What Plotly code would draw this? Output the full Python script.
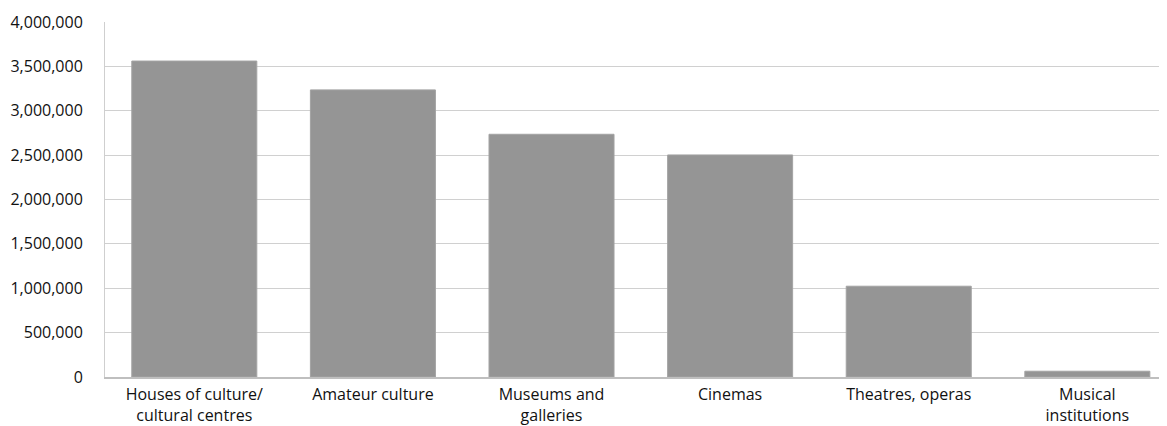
import plotly.graph_objects as go

categories = ["Houses of culture/<br>cultural centres", "Amateur culture", "Museums and<br>galleries",
              "Cinemas", "Theatres, operas", "Musical<br>institutions"]
values = [3560000, 3235000, 2735000, 2502000, 1023000, 65000]
tick_vals = [0, 500000, 1000000, 1500000, 2000000, 2500000, 3000000, 3500000, 4000000]
tick_text = ["0", "500,000", "1,000,000", "1,500,000", "2,000,000", "2,500,000", "3,000,000", "3,500,000", "4,000,000"]

fig = go.Figure(go.Bar(
    x=list(range(len(categories))), y=values,
    marker=dict(color="#959595", line=dict(color="#a3a3a3", width=1)),
    width=0.7,
))

fig.update_layout(
    width=1159, height=418,
    margin=dict(l=97, r=0, t=14, b=40),
    plot_bgcolor="white", paper_bgcolor="white",
    font=dict(family="Open Sans", size=16, color="#111111"),
    showlegend=False,
    bargap=0.3,
)
fig.update_xaxes(
    range=[-0.5, 5.446],
    tickvals=list(range(len(categories))), ticktext=categories,
    showline=True, linecolor="#bfbfbf", linewidth=2,
    showgrid=False, ticks="", ticklabelstandoff=2,
)
fig.update_yaxes(
    range=[0, 4000000], tickvals=tick_vals, ticktext=tick_text,
    showline=True, linecolor="#cfcfcf", linewidth=1,
    gridcolor="#d0d0d0", gridwidth=1, zeroline=False,
    ticks="", ticklabelstandoff=18,
)

fig.write_html("out.html")
